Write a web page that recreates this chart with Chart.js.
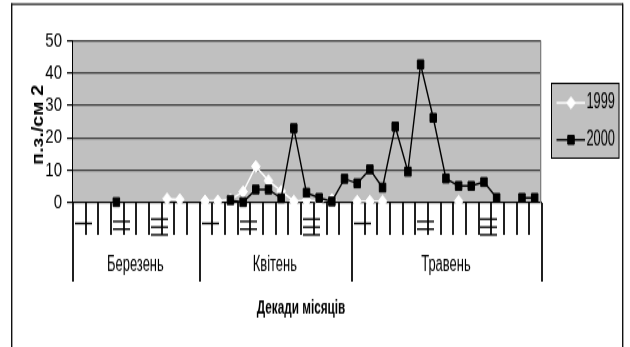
<!DOCTYPE html>
<html>
<head>
<meta charset="utf-8">
<script src="https://cdn.jsdelivr.net/npm/chart.js@4.4.1/dist/chart.umd.min.js"></script>
<style>
  html, body { margin: 0; padding: 0; background: #fff; overflow: hidden; }
  #wrap { width: 630px; height: 347px; position: relative; overflow: hidden; background: #fff; }
  #c { position: absolute; left: 0; top: 0; transform-origin: 0 0; transform: scaleY(1.3346); }
</style>
</head>
<body>
<div id="wrap"><canvas id="c" width="630" height="260"></canvas></div>
<script>
// Month groups and the number of observation slots in each
const months = ['Березень', 'Квітень', 'Травень'];
const slotsPerMonth = [10, 12, 15];

// Decade marks (I, II, III) attached to observation slots
const decadeLabels = [
  '', 'I', '', '', 'II', '', '', 'III', '', '',
  '', 'I', '', '', 'II', '', '', '', '', 'III', '', '',
  '', 'I', '', '', '', '', 'II', '', '', '', '', 'III', '', '', ''
];

// Counts per slot, п.з./см 2
const series1999 = [
  null, null, null, null, null, null, null, 1.2, 1.0, null,
  0.6, 0.6, 1.0, 3.4, 11.2, 6.8, 3.6, 0.5, 0.8, 0.5, 1.0, null,
  0.5, 0.5, 0.5, null, null, null, null, null, 0.5, null, null, null, null, null, null
];
const series2000 = [
  null, null, null, 0.2, null, null, null, null, null, null,
  null, null, 0.8, 0.2, 4.1, 4.1, 1.4, 23, 3.1, 1.5, 0.4, 7.4,
  6.0, 10.3, 4.7, 23.5, 9.6, 42.7, 26.2, 7.5, 5.2, 5.2, 6.4, 1.5, null, 1.5, 1.5
];

const yTicks = [0, 10, 20, 30, 40, 50];
const yTitle = 'п.з./см 2';
const xTitle = 'Декади місяців';

const FONT = '"Liberation Sans", Arial, sans-serif';

// text squeezed horizontally (condensed face)
function condensedText(ctx, text, x, y, sx, align) {
  ctx.save();
  ctx.translate(x, y);
  ctx.scale(sx, 1);
  ctx.textAlign = align || 'center';
  ctx.fillText(text, 0, 0);
  ctx.restore();
}

const framePlugin = {
  id: 'frame',
  beforeDraw(chart) {
    const { ctx, chartArea: a } = chart;
    ctx.save();
    ctx.fillStyle = '#fff';
    ctx.fillRect(0, 0, chart.width, chart.height);
    ctx.fillStyle = '#c0c0c0';
    ctx.fillRect(a.left, a.top, a.right - a.left, a.bottom - a.top);
    ctx.restore();
  },
  afterDraw(chart) {
    const { ctx, chartArea: a } = chart;
    const xs = chart.scales.x;
    const px = [];
    for (let b = 0; b <= decadeLabels.length; b++) px.push(xs.getPixelForValue(b - 0.5));
    ctx.save();

    // plot area right edge
    ctx.fillStyle = '#808080';
    ctx.fillRect(Math.round(a.right) - 1, a.top, 1.3, a.bottom - a.top);

    // slot separators below the axis
    const y0 = Math.round(a.bottom);
    for (let b = 1; b < px.length - 1; b++) {
      ctx.fillStyle = '#202020';
      ctx.fillRect(Math.round(px[b]), y0, 2, 176 - y0);
    }

    // month separators
    let start = 0;
    const bounds = [start];
    slotsPerMonth.forEach(n => { start += n; bounds.push(start); });
    bounds.forEach(b => {
      ctx.fillStyle = '#202020';
      ctx.fillRect(Math.round(px[b]), y0, 2, 211 - y0);
    });

    // month names
    ctx.fillStyle = '#000';
    ctx.font = '16px ' + FONT;
    ctx.textBaseline = 'middle';
    months.forEach((m, i) => {
      condensedText(ctx, m, (px[bounds[i]] + px[bounds[i + 1]]) / 2, 199, 0.81, 'center');
    });

    // decade marks: each stroke of the roman numeral drawn rotated
    ctx.font = '24px ' + FONT;
    ctx.textBaseline = 'alphabetic';
    ctx.textAlign = 'center';
    decadeLabels.forEach((t, i) => {
      if (!t) return;
      const n = t.length;
      const yc = 167.5 + (n - 1) * 1.3;
      for (let k = 0; k < n; k++) {
        ctx.save();
        ctx.translate(px[i] + 1, yc + (k - (n - 1) / 2) * 5.8);
        ctx.rotate(-Math.PI / 2);
        ctx.scale(0.62, 1);
        ctx.fillText(t[k], 0, 6.2);
        ctx.restore();
      }
    });

    // axis titles
    ctx.font = 'bold 14px ' + FONT;
    ctx.textBaseline = 'middle';
    condensedText(ctx, xTitle, 301, 231, 0.84, 'center');
    ctx.font = 'bold 16px ' + FONT;
    ctx.save();
    ctx.translate(38.5, 93.5);
    ctx.rotate(-Math.PI / 2);
    ctx.scale(0.92, 1);
    ctx.textAlign = 'center';
    ctx.fillText(yTitle, 0, 0);
    ctx.restore();

    // legend box
    const lx0 = 551.5, lx1 = 619, ly0 = 62.5, ly1 = 118.5;
    ctx.fillStyle = '#c0c0c0';
    ctx.fillRect(lx0, ly0, lx1 - lx0, ly1 - ly0);
    ctx.strokeStyle = '#000';
    ctx.lineWidth = 1;
    ctx.strokeRect(lx0, ly0, lx1 - lx0, ly1 - ly0);
    const rows = [77, 104.8];
    chart.data.datasets.forEach((ds, i) => {
      const y = rows[i];
      ctx.strokeStyle = ds.borderColor;
      ctx.lineWidth = ds.borderWidth;
      ctx.beginPath();
      ctx.moveTo(556.5, y);
      ctx.lineTo(585, y);
      ctx.stroke();
      ctx.fillStyle = ds.pointBackgroundColor;
      ctx.strokeStyle = ds.pointBorderColor;
      ctx.lineWidth = ds.pointBorderWidth;
      Chart.helpers.drawPoint(ctx, {
        pointStyle: ds.pointStyle, radius: ds.pointRadius, rotation: 0, borderWidth: ds.pointBorderWidth
      }, 571, y);
      ctx.fillStyle = '#000';
      ctx.font = '16px ' + FONT;
      ctx.textBaseline = 'middle';
      condensedText(ctx, ds.label, 586.5, y, 0.8, 'left');
    });

    // outer frame
    ctx.fillStyle = '#111';
    ctx.fillRect(11, 2.5, 1.4, 270);
    ctx.fillRect(11, 2.5, 612, 1.2);
    ctx.fillRect(622, 2.5, 1.4, 270);

    ctx.restore();
  }
};

new Chart(document.getElementById('c').getContext('2d'), {
  type: 'line',
  data: {
    labels: decadeLabels,
    datasets: [
      {
        label: '1999', data: series1999, order: 1,
        borderColor: '#fff', backgroundColor: '#fff', borderWidth: 1.4,
        pointStyle: 'rectRot', pointRadius: 4.4, pointBorderWidth: 1,
        pointBackgroundColor: '#fff', pointBorderColor: '#fff',
        tension: 0, spanGaps: false, clip: 10
      },
      {
        label: '2000', data: series2000, order: 0,
        borderColor: '#000', backgroundColor: '#000', borderWidth: 1.4,
        pointStyle: 'rect', pointRadius: 4.6, pointBorderWidth: 1,
        pointBackgroundColor: '#000', pointBorderColor: '#000',
        tension: 0, spanGaps: false, clip: 10
      }
    ]
  },
  options: {
    responsive: false,
    animation: false,
    devicePixelRatio: 1,
    layout: { padding: { left: 0, right: 89, top: 30.5, bottom: 0 } },
    plugins: { legend: { display: false }, tooltip: { enabled: false } },
    scales: {
      x: {
        type: 'category',
        offset: true,
        grid: { display: false },
        border: { display: true, color: '#000', width: 1 },
        ticks: { display: false },
        afterFit: s => { s.height = 108.1; }
      },
      y: {
        min: 0, max: 50,
        afterBuildTicks: s => { s.ticks = yTicks.map(v => ({ value: v })); },
        grid: { color: '#3a3a3a', lineWidth: 1.2, tickLength: 5, tickColor: '#000', drawTicks: true },
        border: { display: true, color: '#000', width: 1 },
        ticks: { font: { family: FONT, size: 15 }, color: '#000', padding: 5 },
        afterFit: s => { s.width = 72; }
      }
    }
  },
  plugins: [framePlugin]
});
</script>
</body>
</html>
